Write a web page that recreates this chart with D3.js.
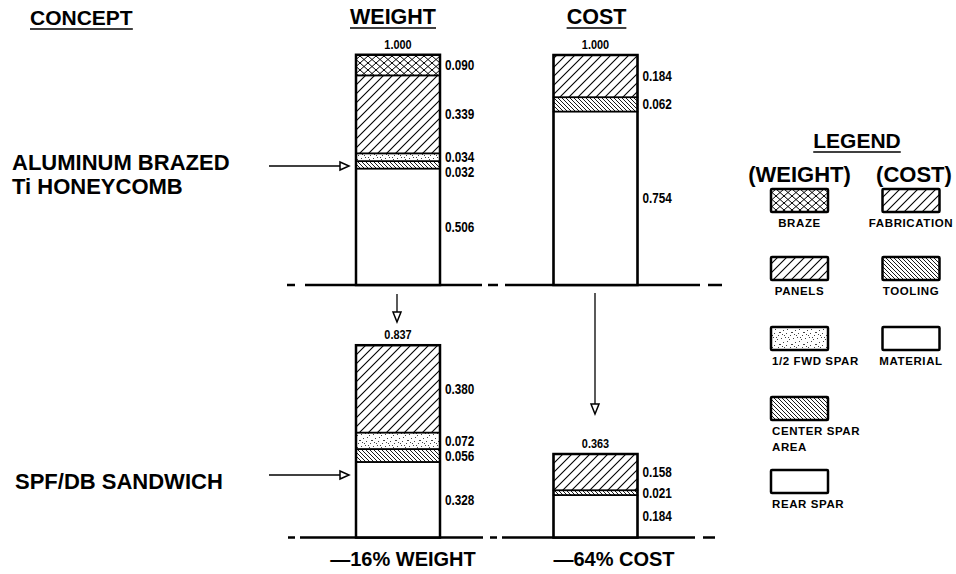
<!DOCTYPE html>
<html><head><meta charset="utf-8">
<script src="https://cdn.jsdelivr.net/npm/d3@7"></script>
<style>body{margin:0;background:#fff}svg{display:block}</style>
</head><body>
<script>
// ---------- DATA ----------
const concepts = [["ALUMINUM BRAZED", "Ti HONEYCOMB"], ["SPF/DB SANDWICH"]];
const measures = ["WEIGHT", "COST"];
const weightComponents = ["REAR SPAR", "CENTER SPAR AREA", "1/2 FWD SPAR", "PANELS", "BRAZE"]; // bottom -> top
const weightAluminum = [0.506, 0.032, 0.034, 0.339, 0.090];
const weightSPF      = [0.328, 0.056, 0.072, 0.380, 0];
const costComponents = ["MATERIAL", "TOOLING", "FABRICATION"]; // bottom -> top
const costAluminum = [0.754, 0.062, 0.184];
const costSPF      = [0.184, 0.021, 0.158];
const weightTotals = ["1.000", "0.837"];
const costTotals   = ["1.000", "0.363"];
const changeLabels = ["—16% WEIGHT", "—64% COST"];
const legendWeight = ["BRAZE", "PANELS", "1/2 FWD SPAR", "CENTER SPAR|AREA", "REAR SPAR"];
const legendCost   = ["FABRICATION", "TOOLING", "MATERIAL"];

// ---------- LAYOUT ----------
const W = 956, H = 574;
const svg = d3.select("body").append("svg").attr("width", W).attr("height", H);
const boldFont = "'Liberation Sans', Arial, Helvetica, sans-serif";

const x = d3.scalePoint().domain(measures).range([398, 595.5]);
const barW = 84;
const rowBase = d3.scaleOrdinal().domain([0, 1]).range([285, 537.5]);
const h = d3.scaleLinear().domain([0, 1]).range([0, 230]);

// narrow numeric text (horizontally condensed)
function numText(sel, tx, ty, txt, anchor, size) {
  return sel.append("text").attr("transform", `translate(${tx},${ty}) scale(0.84,1)`)
    .attr("text-anchor", anchor).attr("font-family", boldFont).attr("font-weight", "bold")
    .attr("font-size", size).text(txt);
}

// patterns
const defs = svg.append("defs");
const pf = defs.append("pattern").attr("id", "fwd").attr("patternUnits", "userSpaceOnUse")
  .attr("width", 9).attr("height", 9);
pf.append("path").attr("d", "M0,9 L9,0 M-2,2 L2,-2 M7,11 L11,7")
  .attr("stroke", "#000").attr("stroke-width", 1.1);
const pb = defs.append("pattern").attr("id", "back").attr("patternUnits", "userSpaceOnUse")
  .attr("width", 4).attr("height", 4);
pb.append("path").attr("d", "M0,0 L4,4 M-1,3 L1,5 M3,-1 L5,1")
  .attr("stroke", "#000").attr("stroke-width", 0.9);
const pc = defs.append("pattern").attr("id", "cross").attr("patternUnits", "userSpaceOnUse")
  .attr("width", 8).attr("height", 7);
pc.append("path").attr("d", "M0,0 L8,7 M0,7 L8,0")
  .attr("stroke", "#000").attr("stroke-width", 1);
const ps = defs.append("pattern").attr("id", "stip").attr("patternUnits", "userSpaceOnUse")
  .attr("width", 12).attr("height", 12);
[[1,2],[5,1],[9,3],[3,6],[7,5],[11,8],[2,10],[6,9],[10,11],[8,1],[4,11],[0,8]].forEach(([a,b]) =>
  ps.append("rect").attr("x", a).attr("y", b).attr("width", 1).attr("height", 1).attr("fill", "#444"));

const fillOf = {
  "REAR SPAR": "#fff", "CENTER SPAR AREA": "url(#back)", "1/2 FWD SPAR": "url(#stip)",
  "PANELS": "url(#fwd)", "BRAZE": "url(#cross)",
  "MATERIAL": "#fff", "TOOLING": "url(#back)", "FABRICATION": "url(#fwd)"
};

// dashed baselines
const baseDash = [
  {x0: 287, x1: 722, dash: "8,10,177,6,10,7,195,8,14"},
  {x0: 288, x1: 715, dash: "7,5,183,7,7,5,193,8,12"}
];
baseDash.forEach((d, i) => {
  svg.append("line").attr("x1", d.x0).attr("x2", d.x1)
    .attr("y1", rowBase(i)).attr("y2", rowBase(i))
    .attr("stroke", "#000").attr("stroke-width", 2.5).attr("stroke-dasharray", d.dash);
});

// ---------- BARS ----------
const series = [
  {m: "WEIGHT", row: 0, comps: weightComponents, vals: weightAluminum, total: weightTotals[0]},
  {m: "COST",   row: 0, comps: costComponents,   vals: costAluminum,   total: costTotals[0]},
  {m: "WEIGHT", row: 1, comps: weightComponents, vals: weightSPF,      total: weightTotals[1]},
  {m: "COST",   row: 1, comps: costComponents,   vals: costSPF,        total: costTotals[1]}
];

series.forEach(s => {
  const base = rowBase(s.row);
  const x0 = x(s.m) - barW / 2;
  const cum = d3.cumsum(s.vals);
  const segs = s.vals.map((v, i) => ({comp: s.comps[i], v, lo: cum[i] - v, hi: cum[i]})).filter(d => d.v > 0);
  const g = svg.append("g");
  g.selectAll("rect.seg").data(segs).join("rect").attr("class", "seg")
    .attr("x", x0).attr("width", barW)
    .attr("y", d => base - h(d.hi)).attr("height", d => h(d.hi) - h(d.lo))
    .attr("fill", d => fillOf[d.comp]).attr("stroke", "#000").attr("stroke-width", 1.5);
  const top = cum[cum.length - 1];
  g.append("rect").attr("x", x0).attr("width", barW)
    .attr("y", base - h(top)).attr("height", h(top))
    .attr("fill", "none").attr("stroke", "#000").attr("stroke-width", 2.5);
  // total label
  numText(g, x(s.m), base - h(top) - 6, s.total, "middle", 13);
  // value labels with simple collision resolution
  const labs = segs.map(d => ({t: d.v.toFixed(3), y: base - h((d.lo + d.hi) / 2)}))
    .sort((a, b) => a.y - b.y);
  for (let i = 1; i < labs.length; i++) if (labs[i].y < labs[i - 1].y + 15) labs[i].y = labs[i - 1].y + 15;
  labs.forEach(d => numText(g, x0 + barW + 5, d.y + 5, d.t, "start", 14));
});

// ---------- TITLES ----------
function underlined(txt, cx, y, size, anchor) {
  const t = svg.append("text").attr("x", cx).attr("y", y).attr("text-anchor", anchor)
    .attr("font-family", boldFont).attr("font-weight", "bold").attr("font-size", size).text(txt);
  const bb = t.node().getBBox();
  svg.append("line").attr("x1", bb.x).attr("x2", bb.x + bb.width).attr("y1", y + 4).attr("y2", y + 4)
    .attr("stroke", "#000").attr("stroke-width", 1.6);
  return t;
}
underlined("CONCEPT", 30, 25, 21, "start");
measures.forEach(m => underlined(m, x(m) - (m === "WEIGHT" ? 5 : -1), 24, 21.5, "middle"));

// concept labels
const conceptY = [[170, 194], [489]];
const conceptX = [12, 15];
concepts.forEach((lines, i) => {
  lines.forEach((ln, j) => svg.append("text").attr("x", conceptX[i]).attr("y", conceptY[i][j])
    .attr("font-family", boldFont).attr("font-weight", "bold").attr("font-size", 22).text(ln));
});

// arrows
function arrowRight(x1, x2, y) {
  svg.append("line").attr("x1", x1).attr("x2", x2 - 8).attr("y1", y).attr("y2", y)
    .attr("stroke", "#000").attr("stroke-width", 1.3);
  svg.append("path").attr("d", `M${x2 - 9},${y - 4} L${x2},${y} L${x2 - 9},${y + 4} Z`)
    .attr("fill", "#fff").attr("stroke", "#000").attr("stroke-width", 1.5);
}
function arrowDown(xx, y1, y2) {
  svg.append("line").attr("x1", xx).attr("x2", xx).attr("y1", y1).attr("y2", y2 - 2)
    .attr("stroke", "#000").attr("stroke-width", 1.3);
  svg.append("path").attr("d", `M${xx - 4},${y2 - 10} L${xx},${y2} L${xx + 4},${y2 - 10} Z`)
    .attr("fill", "#fff").attr("stroke", "#000").attr("stroke-width", 1.5);
}
arrowRight(269, 349, 166);
arrowRight(269, 349, 475);
arrowDown(x("WEIGHT") - 1, 294, 322);
arrowDown(x("COST") - 0.5, 293, 414);

// change labels
const changeX = [403, 614];
changeLabels.forEach((t, i) => svg.append("text").attr("x", changeX[i]).attr("y", 566)
  .attr("text-anchor", "middle").attr("font-family", boldFont).attr("font-weight", "bold")
  .attr("font-size", 20).text(t));

// ---------- LEGEND ----------
underlined("LEGEND", 857, 148, 21, "middle");
svg.append("text").attr("x", 799.5).attr("y", 182).attr("text-anchor", "middle")
  .attr("font-family", boldFont).attr("font-weight", "bold").attr("font-size", 22).text("(WEIGHT)");
svg.append("text").attr("x", 914).attr("y", 182).attr("text-anchor", "middle")
  .attr("font-family", boldFont).attr("font-weight", "bold").attr("font-size", 22).text("(COST)");

const legRowTop = [189, 257, 327, 397, 470];
const swW = 57, swH = 23;
function legendColumn(items, cx, alignLong) {
  items.forEach((it, i) => {
    const lines = it.split("|");
    const key = lines.join(" ");
    const sx = cx - swW / 2, sy = legRowTop[i];
    svg.append("rect").attr("x", sx).attr("y", sy).attr("width", swW).attr("height", swH)
      .attr("fill", fillOf[key]).attr("stroke", "#000").attr("stroke-width", 2.5).attr("rx", 1);
    lines.forEach((ln, j) => {
      const t = svg.append("text").attr("x", cx).attr("y", sy + swH + 15 + j * 15.5)
        .attr("text-anchor", "middle").attr("font-family", boldFont).attr("font-weight", "bold")
        .attr("font-size", 11.5).attr("letter-spacing", 0.6).text(ln);
      if (alignLong && (t.node().getComputedTextLength() > swW || lines.length > 1)) {
        t.attr("text-anchor", "start").attr("x", sx + 1);
      }
    });
  });
}
legendColumn(legendWeight, 799.5, true);
legendColumn(legendCost, 911, false);
</script>
</body></html>
